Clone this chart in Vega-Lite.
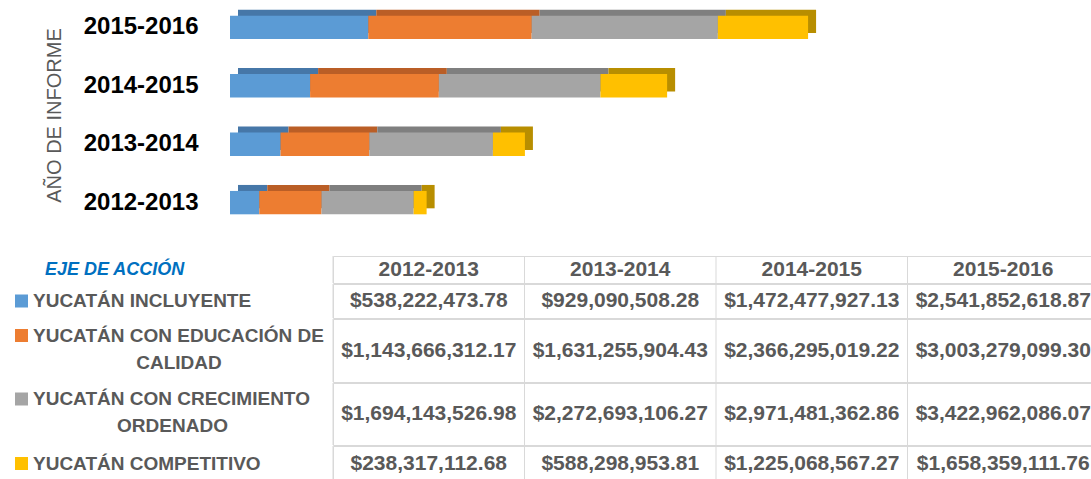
{
  "$schema": "https://vega.github.io/schema/vega-lite/v6.json",
  "padding": {"left": 8, "top": 4, "right": 0, "bottom": 0},
  "background": "#ffffff",
  "config": {
    "view": {"stroke": "#d9d9d9", "strokeWidth": 1},
    "font": "Liberation Sans"
  },
  "datasets": {
    "montos": [
      {"anio": "2012-2013", "eje": "YUCATÁN INCLUYENTE", "orden": 1, "monto": 538222473.78},
      {"anio": "2012-2013", "eje": "YUCATÁN CON EDUCACIÓN DE CALIDAD", "orden": 2, "monto": 1143666312.17},
      {"anio": "2012-2013", "eje": "YUCATÁN CON CRECIMIENTO ORDENADO", "orden": 3, "monto": 1694143526.98},
      {"anio": "2012-2013", "eje": "YUCATÁN COMPETITIVO", "orden": 4, "monto": 238317112.68},
      {"anio": "2013-2014", "eje": "YUCATÁN INCLUYENTE", "orden": 1, "monto": 929090508.28},
      {"anio": "2013-2014", "eje": "YUCATÁN CON EDUCACIÓN DE CALIDAD", "orden": 2, "monto": 1631255904.43},
      {"anio": "2013-2014", "eje": "YUCATÁN CON CRECIMIENTO ORDENADO", "orden": 3, "monto": 2272693106.27},
      {"anio": "2013-2014", "eje": "YUCATÁN COMPETITIVO", "orden": 4, "monto": 588298953.81},
      {"anio": "2014-2015", "eje": "YUCATÁN INCLUYENTE", "orden": 1, "monto": 1472477927.13},
      {"anio": "2014-2015", "eje": "YUCATÁN CON EDUCACIÓN DE CALIDAD", "orden": 2, "monto": 2366295019.22},
      {"anio": "2014-2015", "eje": "YUCATÁN CON CRECIMIENTO ORDENADO", "orden": 3, "monto": 2971481362.86},
      {"anio": "2014-2015", "eje": "YUCATÁN COMPETITIVO", "orden": 4, "monto": 1225068567.27},
      {"anio": "2015-2016", "eje": "YUCATÁN INCLUYENTE", "orden": 1, "monto": 2541852618.87},
      {"anio": "2015-2016", "eje": "YUCATÁN CON EDUCACIÓN DE CALIDAD", "orden": 2, "monto": 3003279099.30},
      {"anio": "2015-2016", "eje": "YUCATÁN CON CRECIMIENTO ORDENADO", "orden": 3, "monto": 3422962086.07},
      {"anio": "2015-2016", "eje": "YUCATÁN COMPETITIVO", "orden": 4, "monto": 1658359111.76}
    ],
    "ejes": [
      {"eje": "YUCATÁN INCLUYENTE", "orden": 1, "linea1": "YUCATÁN INCLUYENTE", "linea2": ""},
      {"eje": "YUCATÁN CON EDUCACIÓN DE CALIDAD", "orden": 2, "linea1": "YUCATÁN CON EDUCACIÓN DE", "linea2": "CALIDAD"},
      {"eje": "YUCATÁN CON CRECIMIENTO ORDENADO", "orden": 3, "linea1": "YUCATÁN CON CRECIMIENTO", "linea2": "ORDENADO"},
      {"eje": "YUCATÁN COMPETITIVO", "orden": 4, "linea1": "YUCATÁN COMPETITIVO", "linea2": ""}
    ],
    "encabezado": [{"texto": "EJE DE ACCIÓN"}]
  },
  "spacing": 29,
  "vconcat": [
    {
      "width": 1083,
      "height": 222,
      "view": {"stroke": null},
      "data": {"name": "montos"},
      "encoding": {
        "y": {
          "field": "anio", "type": "nominal", "sort": "descending",
          "scale": {"paddingInner": 0.6, "paddingOuter": 0.2},
          "axis": {
            "title": "AÑO DE INFORME", "offset": -222, "domain": false, "ticks": false, "tickSize": 0, "grid": false,
            "labelPadding": 32, "labelFont": "Liberation Sans", "labelFontWeight": "bold", "labelFontSize": 24, "labelColor": "#000000",
            "titleFont": "Liberation Sans", "titleFontWeight": "normal", "titleFontSize": 20, "titleColor": "#595959", "titlePadding": 19
          }
        },
        "x": {
          "field": "monto", "type": "quantitative", "stack": "zero",
          "scale": {"domain": [0, 15000000000], "range": [222, 1038], "nice": false},
          "axis": null
        },
        "order": {"field": "orden", "type": "quantitative", "sort": "ascending"}
      },
      "layer": [
        {
          "mark": {"type": "bar", "xOffset": 8, "x2Offset": 8, "yOffset": -6, "y2Offset": -6},
          "encoding": {
            "fill": {
              "field": "eje", "type": "nominal", "legend": null,
              "scale": {
                "domain": ["YUCATÁN INCLUYENTE", "YUCATÁN CON EDUCACIÓN DE CALIDAD", "YUCATÁN CON CRECIMIENTO ORDENADO", "YUCATÁN COMPETITIVO"],
                "range": ["#4677A8", "#BA5E26", "#7F7F7F", "#B88E00"]
              }
            }
          }
        },
        {
          "mark": {"type": "bar"},
          "encoding": {
            "color": {
              "field": "eje", "type": "nominal", "legend": null,
              "scale": {
                "domain": ["YUCATÁN INCLUYENTE", "YUCATÁN CON EDUCACIÓN DE CALIDAD", "YUCATÁN CON CRECIMIENTO ORDENADO", "YUCATÁN COMPETITIVO"],
                "range": ["#5B9BD5", "#ED7D31", "#A5A5A5", "#FFC000"]
              }
            }
          }
        }
      ]
    },
    {
      "spacing": -2,
      "vconcat": [
        {
          "spacing": 0, "bounds": "flush",
          "hconcat": [
            {
              "width": 325, "height": 27,
              "view": {"stroke": null},
              "data": {"name": "encabezado"},
              "mark": {"type": "text", "align": "left", "dx": -125.5, "font": "Liberation Sans", "fontWeight": "bold", "fontStyle": "italic", "fontSize": 18, "color": "#0070C0"},
              "encoding": {"text": {"field": "texto", "type": "nominal"}}
            },
            {
              "width": 766, "height": 27,
              "data": {"name": "montos"},
              "transform": [{"filter": "datum.orden == 1"}],
              "layer": [
                {
                  "mark": {"type": "rule", "color": "#d9d9d9", "strokeWidth": 1},
                  "encoding": {"x": {"field": "anio", "type": "ordinal", "bandPosition": 0, "scale": {"type": "band", "paddingInner": 0, "paddingOuter": 0}, "axis": null}}
                },
                {
                  "mark": {"type": "text", "font": "Liberation Sans", "fontWeight": "bold", "fontSize": 21, "color": "#595959"},
                  "encoding": {
                    "x": {"field": "anio", "type": "ordinal", "axis": null},
                    "text": {"field": "anio", "type": "nominal"}
                  }
                }
              ]
            }
          ]
        },
        {
          "spacing": 0, "bounds": "flush",
          "hconcat": [
            {
              "width": 325, "height": 34,
              "data": {"name": "ejes"},
              "transform": [{"filter": "datum.orden == 1"}],
              "layer": [
                {
                  "mark": {"type": "point", "shape": "square", "filled": true, "size": 169, "opacity": 1, "strokeWidth": 0, "xOffset": -149},
                  "encoding": {"color": {"field": "eje", "type": "nominal", "legend": null, "scale": {"domain": ["YUCATÁN INCLUYENTE", "YUCATÁN CON EDUCACIÓN DE CALIDAD", "YUCATÁN CON CRECIMIENTO ORDENADO", "YUCATÁN COMPETITIVO"], "range": ["#5B9BD5", "#ED7D31", "#A5A5A5", "#FFC000"]}}}
                },
                {
                  "mark": {"type": "text", "align": "left", "dx": -137.5, "font": "Liberation Sans", "fontWeight": "bold", "fontSize": 19, "color": "#595959"},
                  "encoding": {"text": {"field": "linea1", "type": "nominal"}}
                }
              ]
            },
            {
              "width": 766, "height": 34,
              "data": {"name": "montos"},
              "transform": [{"filter": "datum.orden == 1"}],
              "layer": [
                {
                  "mark": {"type": "rule", "color": "#d9d9d9", "strokeWidth": 1},
                  "encoding": {"x": {"field": "anio", "type": "ordinal", "bandPosition": 0, "scale": {"type": "band", "paddingInner": 0, "paddingOuter": 0}, "axis": null}}
                },
                {
                  "mark": {"type": "text", "font": "Liberation Sans", "fontWeight": "bold", "fontSize": 21, "color": "#595959"},
                  "encoding": {
                    "x": {"field": "anio", "type": "ordinal", "axis": null},
                    "text": {"field": "monto", "type": "quantitative", "format": "$,.2f"}
                  }
                }
              ]
            }
          ]
        },
        {
          "spacing": 0, "bounds": "flush",
          "hconcat": [
            {
              "width": 325, "height": 63,
              "data": {"name": "ejes"},
              "transform": [{"filter": "datum.orden == 2"}],
              "layer": [
                {
                  "mark": {"type": "point", "shape": "square", "filled": true, "size": 169, "opacity": 1, "strokeWidth": 0, "xOffset": -149, "yOffset": -15},
                  "encoding": {"color": {"field": "eje", "type": "nominal", "legend": null, "scale": {"domain": ["YUCATÁN INCLUYENTE", "YUCATÁN CON EDUCACIÓN DE CALIDAD", "YUCATÁN CON CRECIMIENTO ORDENADO", "YUCATÁN COMPETITIVO"], "range": ["#5B9BD5", "#ED7D31", "#A5A5A5", "#FFC000"]}}}
                },
                {
                  "mark": {"type": "text", "align": "left", "dx": -137.5, "dy": -15, "font": "Liberation Sans", "fontWeight": "bold", "fontSize": 19, "color": "#595959"},
                  "encoding": {"text": {"field": "linea1", "type": "nominal"}}
                },
                {
                  "mark": {"type": "text", "align": "center", "dx": 8.5, "dy": 12, "font": "Liberation Sans", "fontWeight": "bold", "fontSize": 19, "color": "#595959"},
                  "encoding": {"text": {"field": "linea2", "type": "nominal"}}
                }
              ]
            },
            {
              "width": 766, "height": 63,
              "data": {"name": "montos"},
              "transform": [{"filter": "datum.orden == 2"}],
              "layer": [
                {
                  "mark": {"type": "rule", "color": "#d9d9d9", "strokeWidth": 1},
                  "encoding": {"x": {"field": "anio", "type": "ordinal", "bandPosition": 0, "scale": {"type": "band", "paddingInner": 0, "paddingOuter": 0}, "axis": null}}
                },
                {
                  "mark": {"type": "text", "font": "Liberation Sans", "fontWeight": "bold", "fontSize": 21, "color": "#595959"},
                  "encoding": {
                    "x": {"field": "anio", "type": "ordinal", "axis": null},
                    "text": {"field": "monto", "type": "quantitative", "format": "$,.2f"}
                  }
                }
              ]
            }
          ]
        },
        {
          "spacing": 0, "bounds": "flush",
          "hconcat": [
            {
              "width": 325, "height": 62,
              "data": {"name": "ejes"},
              "transform": [{"filter": "datum.orden == 3"}],
              "layer": [
                {
                  "mark": {"type": "point", "shape": "square", "filled": true, "size": 169, "opacity": 1, "strokeWidth": 0, "xOffset": -149, "yOffset": -15},
                  "encoding": {"color": {"field": "eje", "type": "nominal", "legend": null, "scale": {"domain": ["YUCATÁN INCLUYENTE", "YUCATÁN CON EDUCACIÓN DE CALIDAD", "YUCATÁN CON CRECIMIENTO ORDENADO", "YUCATÁN COMPETITIVO"], "range": ["#5B9BD5", "#ED7D31", "#A5A5A5", "#FFC000"]}}}
                },
                {
                  "mark": {"type": "text", "align": "left", "dx": -137.5, "dy": -15, "font": "Liberation Sans", "fontWeight": "bold", "fontSize": 19, "color": "#595959"},
                  "encoding": {"text": {"field": "linea1", "type": "nominal"}}
                },
                {
                  "mark": {"type": "text", "align": "center", "dx": 2, "dy": 12, "font": "Liberation Sans", "fontWeight": "bold", "fontSize": 19, "color": "#595959"},
                  "encoding": {"text": {"field": "linea2", "type": "nominal"}}
                }
              ]
            },
            {
              "width": 766, "height": 62,
              "data": {"name": "montos"},
              "transform": [{"filter": "datum.orden == 3"}],
              "layer": [
                {
                  "mark": {"type": "rule", "color": "#d9d9d9", "strokeWidth": 1},
                  "encoding": {"x": {"field": "anio", "type": "ordinal", "bandPosition": 0, "scale": {"type": "band", "paddingInner": 0, "paddingOuter": 0}, "axis": null}}
                },
                {
                  "mark": {"type": "text", "font": "Liberation Sans", "fontWeight": "bold", "fontSize": 21, "color": "#595959"},
                  "encoding": {
                    "x": {"field": "anio", "type": "ordinal", "axis": null},
                    "text": {"field": "monto", "type": "quantitative", "format": "$,.2f"}
                  }
                }
              ]
            }
          ]
        },
        {
          "spacing": 0, "bounds": "flush",
          "hconcat": [
            {
              "width": 325, "height": 35,
              "data": {"name": "ejes"},
              "transform": [{"filter": "datum.orden == 4"}],
              "layer": [
                {
                  "mark": {"type": "point", "shape": "square", "filled": true, "size": 169, "opacity": 1, "strokeWidth": 0, "xOffset": -149},
                  "encoding": {"color": {"field": "eje", "type": "nominal", "legend": null, "scale": {"domain": ["YUCATÁN INCLUYENTE", "YUCATÁN CON EDUCACIÓN DE CALIDAD", "YUCATÁN CON CRECIMIENTO ORDENADO", "YUCATÁN COMPETITIVO"], "range": ["#5B9BD5", "#ED7D31", "#A5A5A5", "#FFC000"]}}}
                },
                {
                  "mark": {"type": "text", "align": "left", "dx": -137.5, "font": "Liberation Sans", "fontWeight": "bold", "fontSize": 19, "color": "#595959"},
                  "encoding": {"text": {"field": "linea1", "type": "nominal"}}
                }
              ]
            },
            {
              "width": 766, "height": 35,
              "data": {"name": "montos"},
              "transform": [{"filter": "datum.orden == 4"}],
              "layer": [
                {
                  "mark": {"type": "rule", "color": "#d9d9d9", "strokeWidth": 1},
                  "encoding": {"x": {"field": "anio", "type": "ordinal", "bandPosition": 0, "scale": {"type": "band", "paddingInner": 0, "paddingOuter": 0}, "axis": null}}
                },
                {
                  "mark": {"type": "text", "font": "Liberation Sans", "fontWeight": "bold", "fontSize": 21, "color": "#595959"},
                  "encoding": {
                    "x": {"field": "anio", "type": "ordinal", "axis": null},
                    "text": {"field": "monto", "type": "quantitative", "format": "$,.2f"}
                  }
                }
              ]
            }
          ]
        }
      ]
    }
  ]
}
